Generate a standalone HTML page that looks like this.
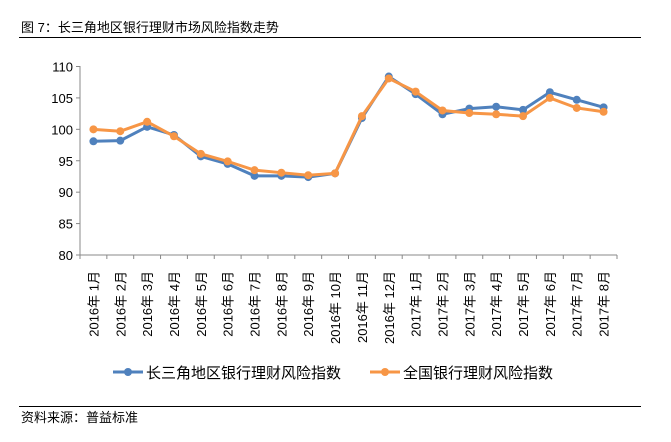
<!DOCTYPE html><html><head><meta charset="utf-8"><style>body{margin:0;background:#fff;width:671px;height:437px;overflow:hidden}</style></head><body>
<svg width="671" height="437" xmlns="http://www.w3.org/2000/svg" font-family="Liberation Sans, Noto Sans CJK SC, sans-serif">
<text x="21" y="32" font-size="13" fill="#000">图 7：长三角地区银行理财市场风险指数走势</text>
<line x1="19" y1="37.5" x2="641" y2="37.5" stroke="#000" stroke-width="1"/>
<line x1="19" y1="406.5" x2="641" y2="406.5" stroke="#000" stroke-width="1"/>
<text x="21" y="422" font-size="13">资料来源：普益标准</text>
<g id="chart"></g>
</svg>
<script>
const g=document.getElementById('chart'),NS='http://www.w3.org/2000/svg';
function el(t,a,txt){const e=document.createElementNS(NS,t);for(const k in a)e.setAttribute(k,a[k]);if(txt)e.textContent=txt;g.appendChild(e);return e}
const X0=80,X1=617,Y=v=>255-(v-80)*(188.5/30),n=20,w=(X1-X0)/n;
el('line',{x1:X0,y1:66,x2:X0,y2:255,stroke:'#888'});
el('line',{x1:X0,y1:255,x2:X1,y2:255,stroke:'#888'});
for(let v=80;v<=110;v+=5){const y=Y(v);el('line',{x1:X0-4,y1:y,x2:X0,y2:y,stroke:'#888'});el('text',{x:X0-7,y:y+5,'font-size':13,'text-anchor':'end'},String(v))}
const lab=[];for(let i=1;i<=12;i++)lab.push('2016年 '+i+'月');for(let i=1;i<=8;i++)lab.push('2017年 '+i+'月');
for(let i=0;i<=n;i++){const x=X0+i*w;el('line',{x1:x,y1:255,x2:x,y2:259,stroke:'#888'})}
lab.forEach((l,i)=>{const x=X0+(i+.5)*w+5;el('text',{x:x,y:271,'font-size':13,'text-anchor':'end',transform:`rotate(-90 ${x} 271)`},l)});
const b=[98.1,98.2,100.4,99.1,95.7,94.5,92.6,92.6,92.4,93.0,101.8,108.4,105.6,102.4,103.3,103.6,103.1,105.9,104.7,103.5];
const o=[100,99.7,101.2,98.9,96.1,94.9,93.5,93.1,92.7,93.0,102.1,108.1,106.0,103.0,102.6,102.4,102.1,105.0,103.4,102.8];
function ser(d,c){el('polyline',{points:d.map((v,i)=>(X0+(i+.5)*w)+','+Y(v)).join(' '),fill:'none',stroke:c,'stroke-width':3});d.forEach((v,i)=>el('circle',{cx:X0+(i+.5)*w,cy:Y(v),r:4,fill:c}))}
ser(b,'#4F81BD');ser(o,'#F79646');
el('line',{x1:113,y1:372,x2:143,y2:372,stroke:'#4F81BD','stroke-width':3});el('circle',{cx:128,cy:372,r:4,fill:'#4F81BD'});
el('text',{x:146,y:378,'font-size':15},'长三角地区银行理财风险指数');
el('line',{x1:370,y1:372,x2:400,y2:372,stroke:'#F79646','stroke-width':3});el('circle',{cx:385,cy:372,r:4,fill:'#F79646'});
el('text',{x:403,y:378,'font-size':15},'全国银行理财风险指数');
</script></body></html>
